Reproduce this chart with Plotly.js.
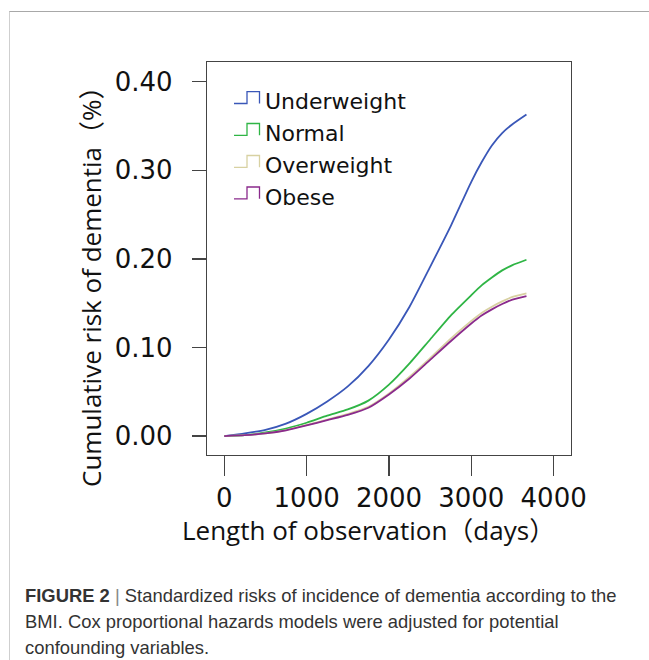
<!DOCTYPE html>
<html>
<head>
<meta charset="utf-8">
<script src="https://cdn.plot.ly/plotly-3.0.1.min.js"></script>
<style>
  html, body { margin:0; padding:0; background:#fff; }
  #wrap { position:relative; width:649px; height:660px; overflow:hidden; }
  #chart { position:absolute; left:0; top:0; width:649px; height:660px; }
  #frame { position:absolute; left:9px; top:11px; width:640px; height:649px;
           border-top:1px solid #a8a8a8; border-left:1px solid #cfcfcf; pointer-events:none; }
</style>
</head>
<body>
<div id="wrap"><div id="chart"></div><div id="frame"></div></div>
<script>
// ---- data ----
const days = [0, 250, 500, 750, 1000, 1250, 1500, 1750, 2000, 2250, 2500, 2750, 3000, 3125, 3250, 3375, 3500, 3670];
const underweight = [0, 0.003, 0.007, 0.014, 0.025, 0.039, 0.056, 0.079, 0.109, 0.146, 0.191, 0.237, 0.287, 0.309, 0.328, 0.342, 0.352, 0.363];
const normal      = [0, 0.001, 0.004, 0.0085, 0.015, 0.023, 0.030, 0.040, 0.058, 0.082, 0.109, 0.136, 0.159, 0.170, 0.179, 0.187, 0.193, 0.199];
const overweight  = [0, 0.001, 0.003, 0.0068, 0.0125, 0.0185, 0.025, 0.033, 0.048, 0.067, 0.088, 0.110, 0.130, 0.139, 0.146, 0.152, 0.157, 0.161];
const obese       = [0, 0.001, 0.003, 0.0065, 0.012, 0.018, 0.024, 0.032, 0.047, 0.065, 0.086, 0.107, 0.127, 0.136, 0.143, 0.149, 0.154, 0.158];
const seriesNames = ["Underweight", "Normal", "Overweight", "Obese"];
const xTicks = [0, 1000, 2000, 3000, 4000];
const yTicks = [0, 0.1, 0.2, 0.3, 0.4];
const yTickText = ["0.00", "0.10", "0.20", "0.30", "0.40"];
const xTitle = "Length of observation（days）";
const yTitle = "Cumulative risk of dementia（%）";
const captionLines = [
  "<b>FIGURE 2</b> <span style='color:#888'>|</span> Standardized risks of incidence of dementia according to the",
  "BMI. Cox proportional hazards models were adjusted for potential",
  "confounding variables."
];

// ---- styles ----
const colors = ["#3a57b8", "#2fb545", "#d8d1a2", "#8a2a8c"];
const seriesData = [underweight, normal, overweight, obese];

// plot area in pixels
const L = 207, R = 571, T = 62, B = 455;
const px = x => (x - L) / (R - L);
const py = y => (B - y) / (B - T);

const traces = seriesData.map((vals, i) => ({
  x: days, y: vals, type: "scatter", mode: "lines", name: seriesNames[i],
  line: { color: colors[i], width: 1.8, shape: "spline", smoothing: 0.6 },
  hoverinfo: "skip", showlegend: false
}));

// legend (step-shaped keys + labels)
const shapes = [];
const annotations = [];
const legendRowY = [101.7, 133.5, 165.5, 197];
seriesNames.forEach((n, i) => {
  const c = legendRowY[i];
  const lo = py(c + 1.8), hi = py(c - 10);
  const x0 = px(234), x1 = px(247), x2 = px(259.5);
  shapes.push({
    type: "path", xref: "paper", yref: "paper",
    path: `M ${x0} ${lo} L ${x1} ${lo} L ${x1} ${hi} L ${x2} ${hi} L ${x2} ${lo}`,
    line: { color: colors[i], width: 1.3 }
  });
  annotations.push({
    xref: "paper", yref: "paper", x: px(263), y: py(c), xanchor: "left", yanchor: "middle",
    text: n, showarrow: false, font: { family: "DejaVu Sans", size: 22, color: "#111" }
  });
});

// axis titles
annotations.push({
  xref: "paper", yref: "paper", x: px(368), y: py(530), xanchor: "center", yanchor: "middle",
  text: xTitle, showarrow: false, font: { family: "Open Sans, Noto Sans CJK SC", size: 26, color: "#111" }
});
annotations.push({
  xref: "paper", yref: "paper", x: px(91), y: py(280), xanchor: "center", yanchor: "middle",
  text: yTitle, textangle: -90, showarrow: false, font: { family: "Open Sans, Noto Sans CJK SC", size: 26, color: "#111" }
});

// caption
const capY = [595, 621.5, 647.5];
captionLines.forEach((t, i) => {
  annotations.push({
    xref: "paper", yref: "paper", x: px(23), y: py(capY[i]), xanchor: "left", yanchor: "middle",
    text: t, showarrow: false, align: "left",
    font: { family: "Liberation Sans", size: 18.4, color: "#333" }
  });
});

const layout = {
  width: 649, height: 660,
  margin: { l: L, r: 649 - R, t: T, b: 660 - B, pad: 0 },
  paper_bgcolor: "#fff", plot_bgcolor: "#fff",
  showlegend: false,
  xaxis: {
    range: [-210, 4211], tickvals: xTicks, ticktext: xTicks.map(String),
    showgrid: false, zeroline: false, showline: true, mirror: true,
    linecolor: "#444", linewidth: 1.2,
    ticks: "outside", ticklen: 20, tickwidth: 1.3, tickcolor: "#444",
    ticklabelstandoff: 0,
    tickfont: { family: "DejaVu Sans", size: 26, color: "#111" }
  },
  yaxis: {
    range: [-0.0214, 0.4222], tickvals: yTicks, ticktext: yTickText,
    showgrid: false, zeroline: false, showline: true, mirror: true,
    linecolor: "#444", linewidth: 1.2,
    ticks: "outside", ticklen: 14, tickwidth: 1.3, tickcolor: "#444",
    ticklabelstandoff: 14,
    tickfont: { family: "DejaVu Sans", size: 26, color: "#111" }
  },
  shapes: shapes,
  annotations: annotations
};

Plotly.newPlot("chart", traces, layout, { staticPlot: true, displayModeBar: false });
</script>
</body>
</html>
